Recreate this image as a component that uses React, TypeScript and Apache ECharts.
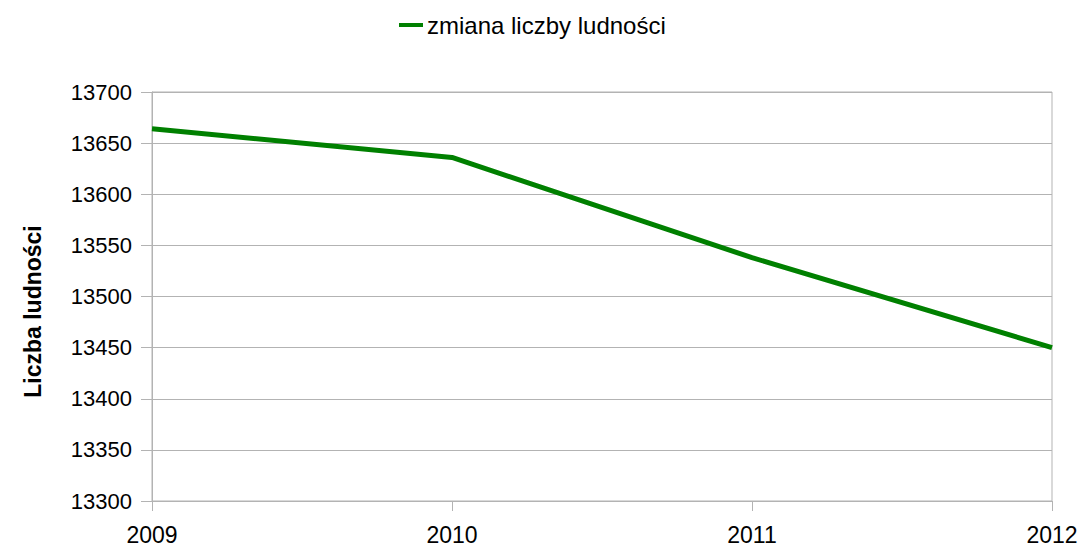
import React, { useEffect, useRef } from "react";
import * as echarts from "echarts";

const years = ["2009", "2010", "2011", "2012"];
const population = [13664, 13636, 13538, 13450];
const seriesName = "zmiana liczby ludności";
const yAxisTitle = "Liczba ludności";

export default function App() {
  const ref = useRef<HTMLDivElement>(null);
  useEffect(() => {
    if (!ref.current) return;
    const chart = echarts.init(ref.current, undefined, { renderer: "svg" });
    const font = "'Liberation Sans', Arial, sans-serif";
    chart.setOption({
      animation: false,
      backgroundColor: "#ffffff",
      textStyle: { fontFamily: font },
      legend: {
        top: 8,
        left: 394,
        icon: "rect",
        itemWidth: 24,
        itemHeight: 4,
        itemGap: 10,
        textStyle: { fontSize: 24, color: "#000", fontFamily: font, padding: [2, 0, 0, -1] },
        data: [seriesName],
      },
      grid: {
        left: 152,
        right: 30,
        top: 92,
        bottom: 46,
        show: true,
        borderColor: "#b3b3b3",
        borderWidth: 1,
      },
      xAxis: {
        type: "category",
        data: years,
        boundaryGap: false,
        axisLine: { show: true, lineStyle: { color: "#b3b3b3", width: 1 } },
        axisTick: { show: true, length: 10, lineStyle: { color: "#b3b3b3" } },
        axisLabel: { color: "#000", fontSize: 23, fontFamily: font, margin: 22 },
        splitLine: { show: false },
      },
      yAxis: {
        type: "value",
        min: 13300,
        max: 13700,
        interval: 50,
        name: yAxisTitle,
        nameLocation: "middle",
        nameGap: 108,
        nameRotate: 90,
        nameTextStyle: {
          fontSize: 23,
          fontWeight: "bold",
          color: "#000",
          fontFamily: font,
          padding: [0, 30, 0, 0],
        },
        axisLine: { show: true, lineStyle: { color: "#b3b3b3", width: 1 } },
        axisTick: { show: true, length: 11, lineStyle: { color: "#b3b3b3" } },
        axisLabel: {
          color: "#000",
          fontSize: 22,
          fontFamily: font,
          margin: 20,
          formatter: (v: number) => String(v),
        },
        splitLine: { show: true, lineStyle: { color: "#b3b3b3", width: 1 } },
      },
      series: [
        {
          name: seriesName,
          type: "line",
          data: population,
          symbol: "none",
          lineStyle: { color: "#008000", width: 5 },
          itemStyle: { color: "#008000" },
        },
      ],
    });
    return () => chart.dispose();
  }, []);
  return (
    <div
      ref={ref}
      style={{ position: "absolute", left: 0, top: 0, width: 1082, height: 547 }}
    />
  );
}
